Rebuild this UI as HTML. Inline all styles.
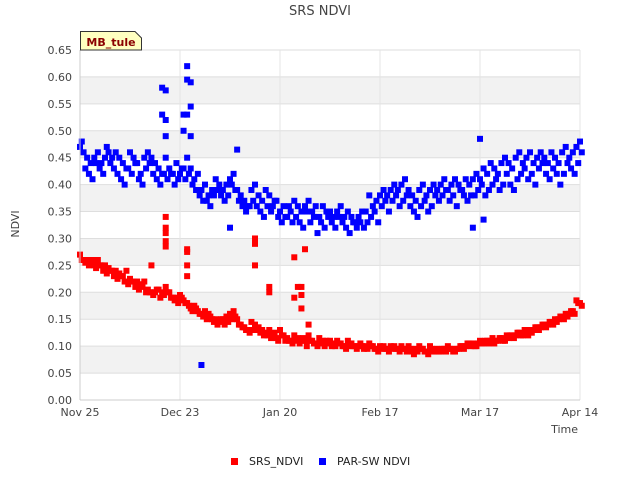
<!DOCTYPE html>
<html><head><meta charset="utf-8"><style>
body{margin:0;background:#fff;font-family:"Liberation Sans","DejaVu Sans",sans-serif;}
svg text{font-family:"DejaVu Sans","Liberation Sans",sans-serif;}
</style></head><body>
<svg id="chart" width="640" height="480" xmlns="http://www.w3.org/2000/svg">
<rect width="640" height="480" fill="#fff"/>
<g id="bands"></g><g id="grid"></g>
<text x="320" y="15" text-anchor="middle" font-size="13" fill="#444">SRS NDVI</text>
<text x="19" y="224" text-anchor="middle" font-size="11" fill="#444" transform="rotate(-90 19 224)">NDVI</text>
<text x="578" y="433" text-anchor="end" font-size="11" fill="#444">Time</text>
<g id="yticks"></g><g id="xticks"></g>
<g id="marks"></g>
<line x1="80" y1="50" x2="80" y2="400" stroke="#ccc"/>
<line x1="80" y1="400" x2="580" y2="400" stroke="#ccc"/>
<g>
<path d="M80.5,50 L80.5,31.5 L135,31.5 L141.5,38 L141.5,50 Z" fill="#ffffc0" stroke="#333"/>
<text x="111" y="46" text-anchor="middle" font-size="11" font-weight="bold" fill="#8b0000">MB_tule</text>
</g>
<g>
<g><rect x="231" y="458" width="7" height="7" fill="#f00"/><text x="249" y="465" font-size="11" fill="#222">SRS_NDVI</text></g>
<g><rect x="319" y="458" width="7" height="7" fill="#00f"/><text x="337" y="465" font-size="11" fill="#222">PAR-SW NDVI</text></g>
</g>
</svg>
<script>
const xTickLabels=["Nov 25","Dec 23","Jan 20","Feb 17","Mar 17","Apr 14"];
const xTickDays=[0,28,56,84,112,140];
const yTicks=[0,0.05,0.1,0.15,0.2,0.25,0.3,0.35,0.4,0.45,0.5,0.55,0.6,0.65];
const srsA=[.27,.26,.26,.255,.25,.26,.25,.25,.245,.24,
.24,.235,.23,.24,.225,.22,.22,.215,.22,.205,
.20,.20,.205,.20,.21,.20,.19,.19,.195,.185,
.18,.17,.175,.165,.16,.165,.16,.15,.15,.145,
.15,.155,.16,.165,.15,.14,.135,.13,.145,.14,
.135,.13,.125,.13,.12,.115,.13,.12,.115,.11,
.12,.115,.11,.11,.12,.11,.105,.115,.11,.11,
.11,.105,.11,.105,.10,.11,.105,.10,.10,.10,
.10,.105,.10,.095,.10,.10,.095,.10,.10,.095,
.10,.095,.10,.09,.095,.10,.095,.09,.10,.09,
.095,.09,.095,.10,.095,.09,.095,.10,.10,.105,
.105,.10,.11,.105,.11,.11,.105,.11,.115,.11,
.115,.12,.12,.125,.12,.125,.13,.13,.135,.135,
.14,.14,.145,.15,.15,.155,.16,.16,.165,.185,.18];
const srsB=[.26,.255,.25,.26,.245,.25,.24,.235,.24,.23,
.225,.23,.22,.215,.22,.21,.205,.21,.20,.20,
.195,.205,.19,.195,.20,.19,.185,.18,.19,.18,
.175,.165,.17,.16,.155,.15,.155,.145,.14,.15,
.14,.145,.15,.155,.14,.135,.13,.125,.13,.13,
.125,.12,.12,.115,.125,.11,.12,.11,.11,.105,
.11,.105,.115,.10,.11,.105,.10,.105,.10,.105,
.10,.10,.105,.10,.095,.10,.10,.095,.105,.095,
.095,.10,.095,.09,.095,.095,.09,.095,.095,.09,
.095,.09,.095,.085,.09,.095,.09,.085,.095,.09,
.09,.095,.09,.095,.09,.095,.10,.095,.105,.10,
.10,.105,.105,.11,.105,.115,.11,.115,.11,.12,
.12,.115,.125,.12,.13,.12,.125,.135,.13,.14,
.135,.145,.14,.145,.155,.15,.155,.165,.16,.18,.175];
const srsOutDays=[24,24,24,24,24,30,30,30,30,49,49,49,53,53,60,60,61,62,62,62,63,64,20];
const srsOutVals=[.34,.32,.31,.295,.285,.28,.275,.25,.23,.30,.29,.25,.21,.20,.265,.19,.21,.17,.21,.195,.28,.14,.25];
const parA=[.47,.46,.45,.44,.45,.46,.44,.45,.46,.45,
.46,.45,.44,.43,.46,.45,.44,.42,.45,.46,
.45,.44,.43,.42,.45,.43,.42,.44,.42,.43,
.45,.43,.41,.42,.39,.40,.38,.39,.41,.40,
.39,.40,.41,.42,.39,.38,.37,.36,.39,.40,
.38,.37,.39,.38,.36,.37,.35,.36,.34,.35,
.37,.36,.35,.36,.37,.35,.36,.34,.36,.35,
.35,.34,.35,.36,.34,.35,.34,.33,.34,.35,
.35,.38,.36,.37,.38,.39,.38,.39,.40,.39,
.40,.41,.39,.38,.37,.39,.40,.38,.39,.40,
.39,.40,.41,.39,.40,.41,.40,.39,.41,.40,
.41,.42,.41,.43,.42,.44,.43,.42,.44,.45,
.44,.43,.45,.46,.44,.45,.46,.44,.45,.46,
.45,.44,.46,.45,.44,.46,.47,.45,.46,.47,.48];
const parB=[.48,.43,.42,.41,.44,.43,.42,.47,.44,.43,
.42,.41,.40,.43,.42,.44,.41,.40,.43,.44,
.42,.41,.40,.42,.41,.42,.40,.41,.43,.41,
.42,.40,.39,.38,.37,.37,.36,.38,.39,.38,
.37,.38,.40,.39,.37,.36,.35,.36,.37,.36,
.35,.34,.36,.35,.37,.34,.33,.34,.36,.33,
.34,.33,.32,.35,.33,.34,.31,.33,.32,.34,
.33,.32,.34,.33,.32,.31,.33,.32,.33,.32,
.33,.34,.35,.33,.36,.37,.35,.37,.38,.36,
.37,.38,.36,.35,.34,.36,.37,.35,.36,.38,
.37,.38,.39,.37,.38,.36,.39,.38,.37,.38,
.38,.39,.40,.38,.39,.40,.41,.39,.40,.42,
.40,.39,.41,.42,.43,.41,.42,.40,.43,.44,
.42,.41,.43,.42,.40,.42,.44,.43,.42,.44,.46];
const parOutDays=[23,24,23,24,24,30,30,31,31,30,29,29,31,34,44,42,112,110,113];
const parOutVals=[.58,.575,.53,.52,.49,.62,.595,.59,.545,.53,.53,.50,.49,.065,.465,.32,.485,.32,.335];

const X0=80,X1=580,Y0=400,Y1=50,DMAX=140,VMAX=0.65;
const xs=d=>X0+(d/DMAX)*(X1-X0);
const ys=v=>Y0-(v/VMAX)*(Y0-Y1);
const NS="http://www.w3.org/2000/svg";
function mk(tag,parent){const e=document.createElementNS(NS,tag);document.getElementById(parent).appendChild(e);return e;}
for(let i=0;i<yTicks.length-1;i++){
  if(i%2===1){const r=mk('rect','bands');
    r.setAttribute('x',X0);r.setAttribute('y',ys(yTicks[i+1]));r.setAttribute('width',X1-X0);r.setAttribute('height',ys(yTicks[i])-ys(yTicks[i+1]));r.setAttribute('fill','#f2f2f2');
    
    }
}
yTicks.forEach(v=>{
  const l=mk('line','grid');l.setAttribute('x1',X0);l.setAttribute('x2',X1);l.setAttribute('y1',ys(v));l.setAttribute('y2',ys(v));l.setAttribute('stroke','#dedede');
  
  
  const t=mk('text','yticks');t.setAttribute('x',72);t.setAttribute('y',ys(v)+4);t.setAttribute('text-anchor','end');t.setAttribute('font-size','11');t.setAttribute('fill','#444');t.textContent=v.toFixed(2);
  
  
});
xTickDays.forEach((d,i)=>{
  const l=mk('line','grid');l.setAttribute('x1',xs(d));l.setAttribute('x2',xs(d));l.setAttribute('y1',50);l.setAttribute('y2',400);l.setAttribute('stroke','#e4e4e4');
  
  
  const t=mk('text','xticks');t.setAttribute('x',xs(d));t.setAttribute('y',416);t.setAttribute('text-anchor','middle');t.setAttribute('font-size','11');t.setAttribute('fill','#444');t.textContent=xTickLabels[i];
  
  
});
function pt(d,v,c,name){const r=mk('rect','marks');r.setAttribute('x',xs(d)-3);r.setAttribute('y',ys(v)-3);r.setAttribute('width',6);r.setAttribute('height',6);r.setAttribute('fill',c);
  
  }
srsA.forEach((v,d)=>pt(d,v,'#f00','srs-point'));
srsB.forEach((v,d)=>pt(d+0.5,v,'#f00','srs-point'));
srsOutDays.forEach((d,i)=>pt(d,srsOutVals[i],'#f00','srs-point'));
parA.forEach((v,d)=>pt(d,v,'#00f','par-point'));
parB.forEach((v,d)=>pt(d+0.5,v,'#00f','par-point'));
parOutDays.forEach((d,i)=>pt(d,parOutVals[i],'#00f','par-point'));
</script>
</body></html>
